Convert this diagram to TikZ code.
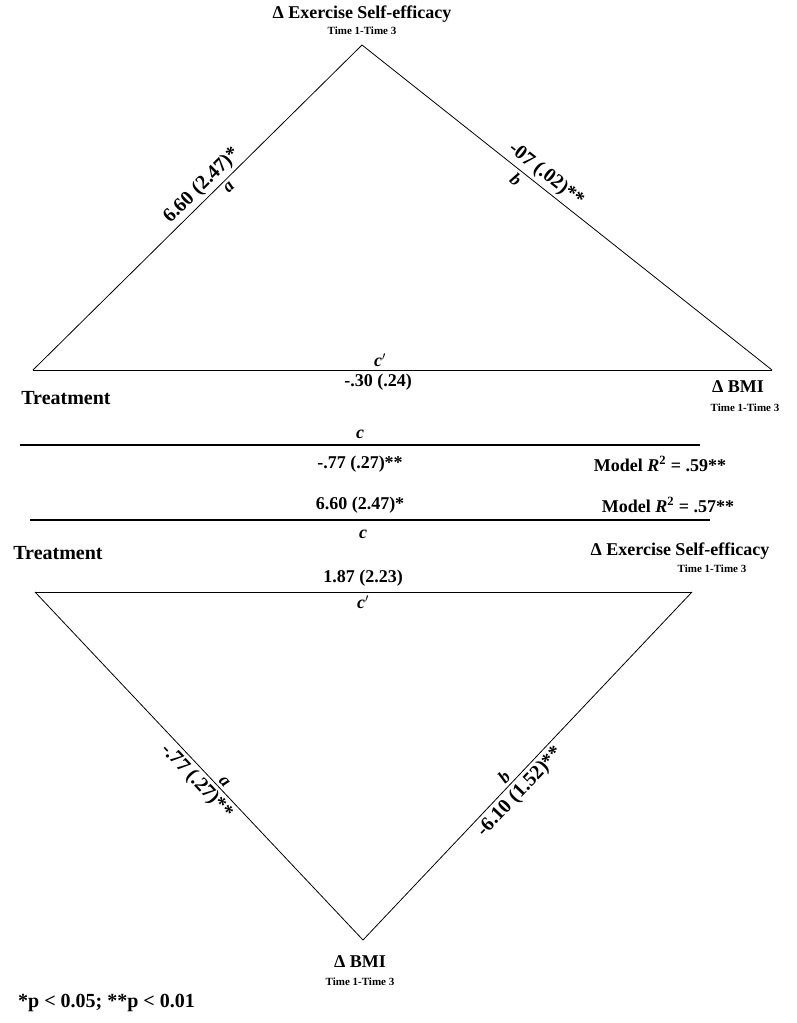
\documentclass[tikz,border=0pt]{standalone}
\usepackage{fontspec}
\setmainfont{Liberation Serif}
\begin{document}
\begin{tikzpicture}[x=1pt,y=-1pt,
  big/.style={font=\bfseries\fontsize{18}{20}\selectfont,inner sep=0pt},
  bigger/.style={font=\bfseries\fontsize{20}{22}\selectfont,inner sep=0pt},
  slab/.style={font=\bfseries\fontsize{20}{22}\selectfont,inner sep=3pt,sloped},
  sm/.style={font=\bfseries\fontsize{11}{13}\selectfont,inner sep=0pt},
  lab/.style={font=\bfseries\itshape\fontsize{18}{20}\selectfont,inner sep=0pt},
  slet/.style={font=\bfseries\itshape\fontsize{18}{20}\selectfont,inner sep=3pt,sloped},
  thin/.style={line width=0.8pt},
  thick2/.style={line width=2.5pt}]
\path[use as bounding box] (0,0) rectangle (796,1023);
% top triangle
\coordinate (A) at (362,45); \coordinate (L) at (33,370); \coordinate (R) at (772,370);
\draw[thin] (L) -- node[slab,pos=0.54,above] (e1) {6.60 (2.47)*} node[slet,pos=0.58,below] (a1) {a} (A);
\draw[thin] (A) -- node[slab,pos=0.43,above] (e2) {-07 (.02)**} node[slet,pos=0.39,below] (b1) {b} (R);
\draw[thin] (R) -- (L);
\node[big] (t1) at (362,14) {Δ Exercise Self-efficacy};
\node[sm] (t1s) at (362,31) {Time 1-Time 3};
\node[lab] (cp1) at (380,360) {c$'$};
\node[big] (v1) at (378,382) {-.30 (.24)};
\node[bigger] (tr1) at (66,398) {Treatment};
\node[big] (bm1) at (738,387) {Δ BMI};
\node[sm] (bm1s) at (745,408) {Time 1-Time 3};
% middle
\coordinate (m1a) at (20,445); \coordinate (m1b) at (700,445);
\draw[thick2] (m1a) -- (m1b);
\node[lab] (c1) at (360,434) {c};
\node[big] (v2) at (360,464) {-.77 (.27)**};
\node[big] (r1) at (660,464) {Model \textit{R}\textsuperscript{2} = .59**};
\node[big] (v3) at (360,505) {6.60 (2.47)*};
\node[big] (r2) at (668,505) {Model \textit{R}\textsuperscript{2} = .57**};
\coordinate (m2a) at (30,520); \coordinate (m2b) at (710,520);
\draw[thick2] (m2a) -- (m2b);
\node[lab] (c2) at (363,534) {c};
% bottom triangle
\coordinate (BL) at (35,592); \coordinate (BR) at (692,592); \coordinate (BB) at (363,940);
\draw[thin] (BL) -- (BR);
\draw[thin] (BL) -- node[slab,pos=0.52,below] (e3) {-.77 (.27)**} node[slet,pos=0.56,above] (a2) {a} (BB);
\draw[thin] (BB) -- node[slab,pos=0.45,below] (e4) {-6.10 (1.52)**} node[slet,pos=0.45,above] (b2) {b} (BR);
\node[bigger] (tr2) at (58,553) {Treatment};
\node[big] (es2) at (680,551) {Δ Exercise Self-efficacy};
\node[sm] (es2s) at (712,569) {Time 1-Time 3};
\node[big] (v4) at (363,578) {1.87 (2.23)};
\node[lab] (cp2) at (363,602) {c$'$};
\node[big] (bm2) at (360,962) {Δ BMI};
\node[sm] (bm2s) at (360,982) {Time 1-Time 3};
\node[bigger,anchor=west] (note) at (18,1003) {*p {\textless} 0.05; **p {\textless} 0.01};
\end{tikzpicture}
\end{document}
